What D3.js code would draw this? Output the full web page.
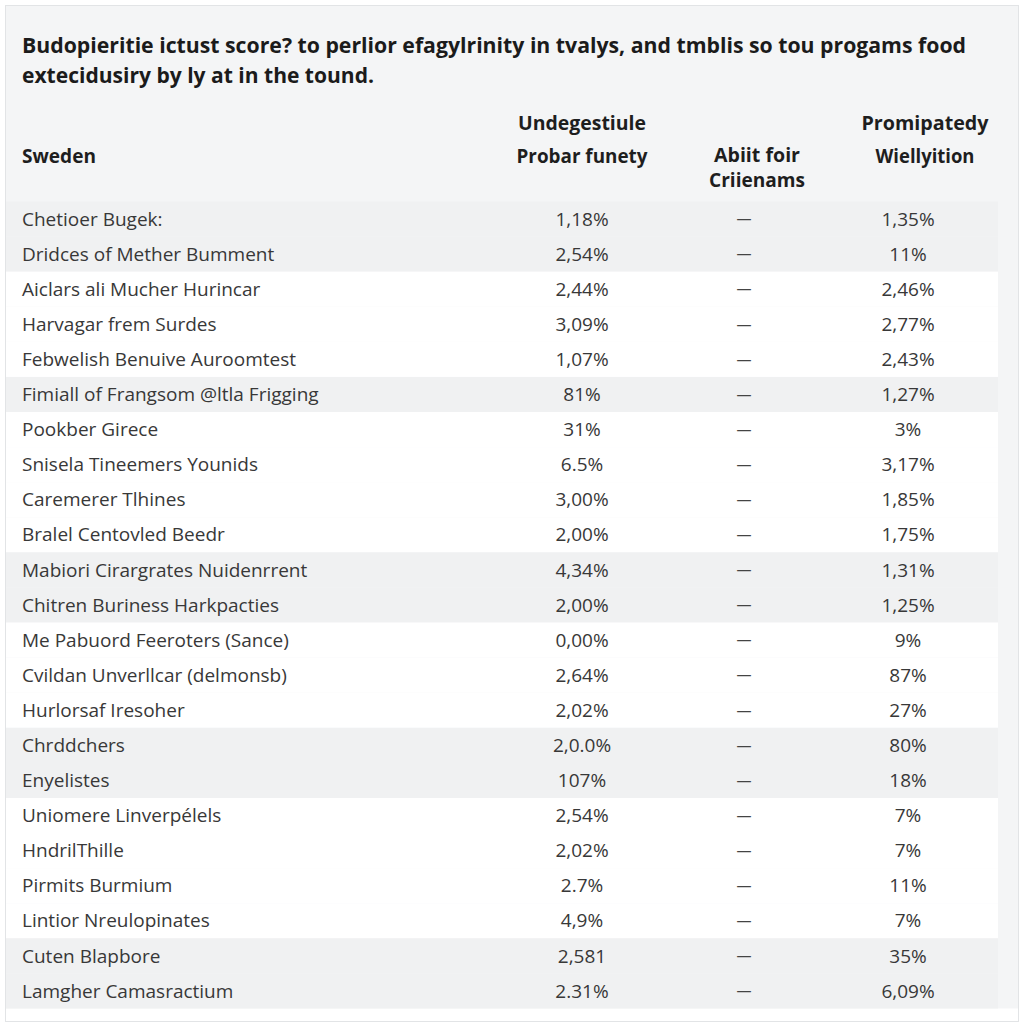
<!DOCTYPE html>
<html>
<head>
<meta charset="utf-8">
<script src="https://cdn.jsdelivr.net/npm/d3@7"></script>
<style>
  html, body { margin: 0; padding: 0; background: #ffffff; }
  svg { display: block; }
</style>
</head>
<body>
<svg id="chart" width="1024" height="1024"></svg>
<script>
// ---------------- data ----------------
const titleLines = [
  "Budopieritie ictust score? to perlior efagylrinity in tvalys, and tmblis so tou progams food",
  "extecidusiry by ly at in the tound."
];
const rowHeader = "Sweden";
const columnHeaders = [
  ["Undegestiule", "Probar funety"],
  ["Abiit foir", "Criienams"],
  ["Promipatedy", "Wiellyition"]
];
const categories = [
  "Chetioer Bugek:",
  "Dridces of Mether Bumment",
  "Aiclars ali Mucher Hurincar",
  "Harvagar frem Surdes",
  "Febwelish Benuive Auroomtest",
  "Fimiall of Frangsom @ltla Frigging",
  "Pookber Girece",
  "Snisela Tineemers Younids",
  "Caremerer Tlhines",
  "Bralel Centovled Beedr",
  "Mabiori Cirargrates Nuidenrrent",
  "Chitren Buriness Harkpacties",
  "Me Pabuord Feeroters (Sance)",
  "Cvildan Unverllcar (delmonsb)",
  "Hurlorsaf Iresoher",
  "Chrddchers",
  "Enyelistes",
  "Uniomere Linverpélels",
  "HndrilThille",
  "Pirmits Burmium",
  "Lintior Nreulopinates",
  "Cuten Blapbore",
  "Lamgher Camasractium"
];
const seriesA = [
  "1,18%", "2,54%", "2,44%", "3,09%", "1,07%", "81%", "31%", "6.5%", "3,00%", "2,00%",
  "4,34%", "2,00%", "0,00%", "2,64%", "2,02%", "2,0.0%", "107%", "2,54%", "2,02%", "2.7%",
  "4,9%", "2,581", "2.31%"
];
const seriesB = categories.map(() => "—");
const seriesC = [
  "1,35%", "11%", "2,46%", "2,77%", "2,43%", "1,27%", "3%", "3,17%", "1,85%", "1,75%",
  "1,31%", "1,25%", "9%", "87%", "27%", "80%", "18%", "7%", "7%", "11%",
  "7%", "35%", "6,09%"
];
// shaded row groups (alternating bands as in the reference)
const shadedRows = [0, 1, 5, 10, 11, 15, 16, 21, 22];

// ---------------- layout ----------------
const svg = d3.select("#chart");
const W = 1024, H = 1024;

// panel
svg.append("rect").attr("x", 0).attr("y", 0).attr("width", W).attr("height", H).attr("fill", "#ffffff");
svg.append("rect").attr("x", 5.5).attr("y", 5.5).attr("width", 1013).attr("height", 1016)
  .attr("fill", "#f4f5f6").attr("stroke", "#e2e4e6").attr("stroke-width", 1);

const y = d3.scaleBand().domain(d3.range(categories.length)).range([201.5, 1008.5]).paddingInner(0);
const tableLeft = 6, tableRight = 998;

// white area below table
svg.append("rect").attr("x", tableLeft).attr("y", y.range()[1]).attr("width", 1012)
  .attr("height", 1021 - y.range()[1]).attr("fill", "#ffffff");

// row bands
svg.append("g").selectAll("rect").data(categories).join("rect")
  .attr("x", tableLeft)
  .attr("y", (d, i) => y(i))
  .attr("width", tableRight - tableLeft)
  .attr("height", y.bandwidth())
  .attr("fill", (d, i) => shadedRows.includes(i) ? "#f0f1f2" : "#ffffff");

// title
const titleFont = "'Open Sans', 'Noto Sans', sans-serif";
const titleWidths = [944, 352];
svg.append("g").selectAll("text").data(titleLines).join("text")
  .attr("x", 22)
  .attr("y", (d, i) => 53 + i * 30)
  .attr("font-family", titleFont)
  .attr("font-weight", 700)
  .attr("font-size", 22)
  .attr("fill", "#1b1b1b")
  .attr("textLength", (d, i) => titleWidths[i])
  .attr("lengthAdjust", "spacingAndGlyphs")
  .text(d => d);

// column centers
const colX = d3.scaleOrdinal().domain(["A", "B", "C"]).range([582, 744, 908]);
const headX = d3.scaleOrdinal().domain(["A", "B", "C"]).range([582, 757, 925]);

// header
const hdr = svg.append("g")
  .attr("font-family", titleFont)
  .attr("font-weight", 700)
  .attr("font-size", 19)
  .attr("fill", "#1e1e1e");
hdr.append("text").attr("x", 22).attr("y", 163).attr("textLength", 74)
  .attr("lengthAdjust", "spacingAndGlyphs").text(rowHeader);

const headerLayout = [
  { key: "A", lines: columnHeaders[0], ys: [130, 163], widths: [128, 131] },
  { key: "B", lines: columnHeaders[1], ys: [162, 187], widths: [86, 96] },
  { key: "C", lines: columnHeaders[2], ys: [130, 163], widths: [127, 99] }
];
headerLayout.forEach(h => {
  h.lines.forEach((line, j) => {
    hdr.append("text")
      .attr("x", headX(h.key))
      .attr("y", h.ys[j])
      .attr("text-anchor", "middle")
      .attr("textLength", h.widths[j])
      .attr("lengthAdjust", "spacingAndGlyphs")
      .text(line);
  });
});

// body
const bodyFont = "'Open Sans', 'Noto Sans', sans-serif";
const body = svg.append("g")
  .attr("font-family", bodyFont)
  .attr("font-size", 19)
  .attr("fill", "#383838");

const rows = body.selectAll("g.row").data(categories).join("g")
  .attr("class", "row")
  .attr("transform", (d, i) => `translate(0,${y(i) + y.bandwidth() / 2})`);

rows.append("text").attr("x", 22).attr("dy", "0.35em").text(d => d);
rows.append("text").attr("x", colX("A")).attr("dy", "0.35em").attr("text-anchor", "middle")
  .text((d, i) => seriesA[i]);
rows.append("text").attr("x", colX("B")).attr("dy", "0.35em").attr("text-anchor", "middle")
  .attr("font-size", 15).attr("fill", "#444").text((d, i) => seriesB[i]);
rows.append("text").attr("x", colX("C")).attr("dy", "0.35em").attr("text-anchor", "middle")
  .text((d, i) => seriesC[i]);
</script>
</body>
</html>
